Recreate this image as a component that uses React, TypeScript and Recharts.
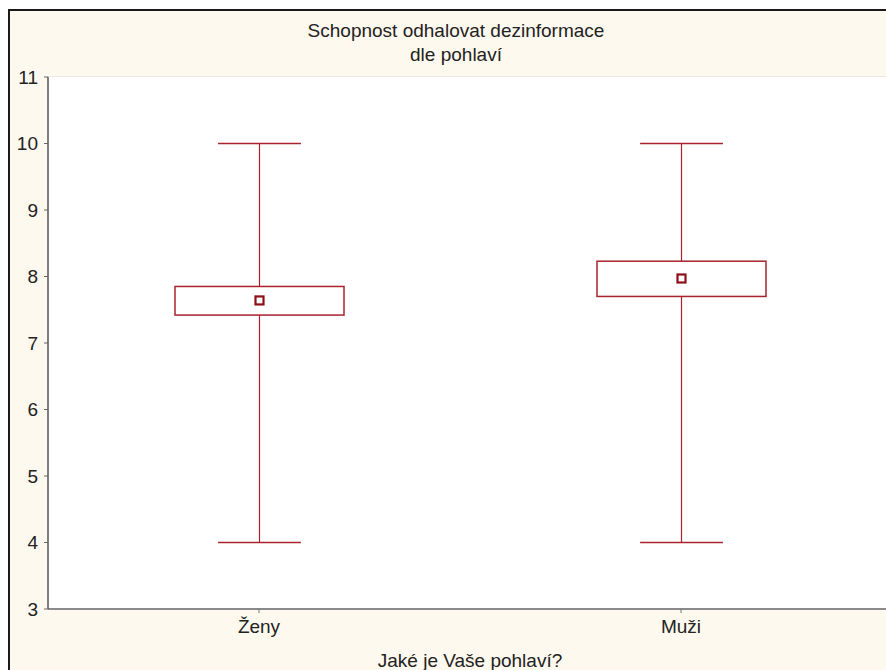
import { ComposedChart, Bar, XAxis, YAxis, CartesianGrid } from "recharts";

const categories = ["Ženy", "Muži"];
const minValues = [4, 4];
const maxValues = [10, 10];
const q1Values = [7.42, 7.7];
const q3Values = [7.85, 8.23];
const meanValues = [7.64, 7.97];
const yTicks = [3, 4, 5, 6, 7, 8, 9, 10, 11];

const data = categories.map((name, i) => ({
  name,
  min: minValues[i],
  max: maxValues[i],
  q1: q1Values[i],
  q3: q3Values[i],
  mean: meanValues[i],
}));

const RED = "#A8232D";
const FONT = "'Liberation Sans', Arial, sans-serif";

const BoxShape = (props: any) => {
  const { x, y, width, height, payload } = props;
  const top = Math.min(y, y + height);
  const bottom = Math.max(y, y + height);
  const span = bottom - top;
  // map values between whisker ends onto the same pixel range the bar got
  const toY = (v: number) =>
    bottom - ((v - payload.min) / (payload.max - payload.min)) * span;
  const cx = x + width / 2;
  const capHalf = width * 0.245;
  const yq1 = toY(payload.q1);
  const yq3 = toY(payload.q3);
  const ym = toY(payload.mean);
  return (
    <g>
      <line x1={cx} x2={cx} y1={top} y2={yq3} stroke={RED} strokeWidth={1.2} />
      <line x1={cx} x2={cx} y1={yq1} y2={bottom} stroke={RED} strokeWidth={1.2} />
      <line x1={cx - capHalf} x2={cx + capHalf} y1={top} y2={top} stroke={RED} strokeWidth={1.5} />
      <line x1={cx - capHalf} x2={cx + capHalf} y1={bottom} y2={bottom} stroke={RED} strokeWidth={1.5} />
      <rect x={x} y={yq3} width={width} height={yq1 - yq3} fill="#fff" stroke={RED} strokeWidth={1.5} />
      <rect x={cx - 4} y={ym - 4} width={8} height={8} fill="#fff" stroke="#8E0F1A" strokeWidth={2.2} />
    </g>
  );
};

export default function App() {
  return (
    <div
      style={{
        position: "fixed",
        left: 8,
        top: 8,
        width: 878,
        height: 662,
        overflow: "hidden",
      }}
    >
      <div
        style={{
          position: "relative",
          width: 892,
          height: 680,
          background: "#FEF9EE",
          borderLeft: "2px solid #1a1a1a",
          borderTop: "2px solid #1a1a1a",
          fontFamily: FONT,
          marginTop: 1,
          boxSizing: "border-box",
        }}
      >
        <div
          style={{
            position: "absolute",
            left: 0,
            width: 892,
            top: 8,
            textAlign: "center",
            fontSize: 19,
            lineHeight: "24px",
            color: "#222",
          }}
        >
          Schopnost odhalovat dezinformace
          <br />
          dle pohlaví
        </div>
        <ComposedChart
          width={890}
          height={678}
          data={data}
          margin={{ top: 66, right: 8, bottom: 50, left: 0 }}
          barCategoryGap={0}
          style={{ position: "absolute", left: 0, top: 0 }}
        >
          <rect x={38} y={66} width={844} height={532} fill="#fff" />
          <CartesianGrid horizontal vertical={false} stroke="#E2E2E2" strokeWidth={1.3} />
          <XAxis
            dataKey="name"
            xAxisId="bottom"
            orientation="bottom"
            height={30}
            axisLine={{ stroke: "#8A8A8A", strokeWidth: 2 }}
            tickLine={{ stroke: "#777" }}
            tickSize={4}
            tickMargin={7}
            tick={{ fill: "#222", fontSize: 19, fontFamily: FONT }}
            label={{
              value: "Jaké je Vaše pohlaví?",
              position: "insideBottom",
              dy: 33,
              fill: "#222",
              fontSize: 19,
              fontFamily: FONT,
            }}
          />
          <XAxis
            dataKey="name"
            xAxisId="top"
            orientation="top"
            height={0}
            mirror
            axisLine={{ stroke: "#777", strokeWidth: 1.5 }}
            tickLine={{ stroke: "#777" }}
            tickSize={4}
            tickFormatter={() => ""}
          />
          <YAxis
            domain={[3, 11]}
            ticks={yTicks}
            type="number"
            width={38}
            interval={0}
            axisLine={{ stroke: "#555", strokeWidth: 1.5 }}
            tickLine={{ stroke: "#666" }}
            tickSize={4}
            tickMargin={6}
            tick={{ fill: "#222", fontSize: 19, fontFamily: FONT }}
          />
          <Bar
            xAxisId="bottom"
            dataKey={(d: any) => [d.min, d.max]}
            barSize={169}
            shape={BoxShape}
            isAnimationActive={false}
          />
        </ComposedChart>
      </div>
    </div>
  );
}
